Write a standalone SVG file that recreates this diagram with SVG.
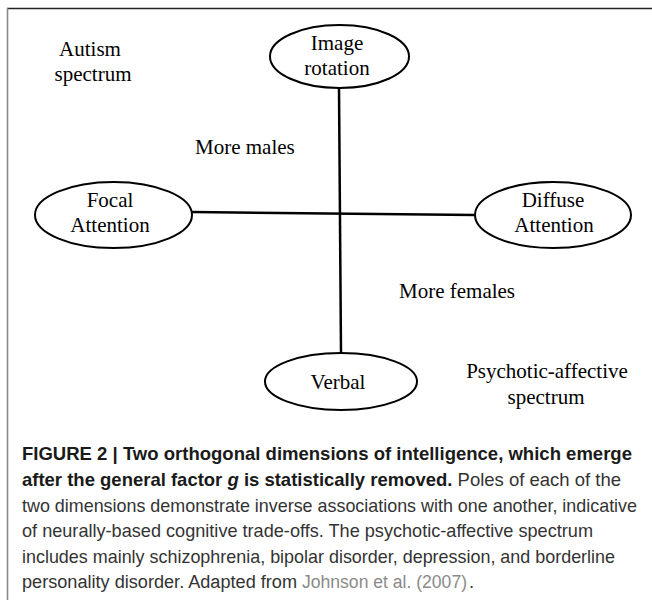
<svg xmlns="http://www.w3.org/2000/svg" width="652" height="600" viewBox="0 0 652 600">
<style>
.node ellipse{fill:#fff;stroke:#000;stroke-width:2}
.lbl{font-family:"Liberation Serif","Times New Roman",serif;font-size:21px;fill:#000}
.mid{text-anchor:middle}
.conn line{stroke:#000;stroke-width:2.5}
.cap{font-family:"Liberation Sans",Arial,sans-serif;font-size:18.5px;fill:#333}
.b{font-weight:bold;fill:#1a1a1a}
.ref{fill:#8a8a8a}
</style>
<rect width="652" height="600" fill="#fff"/>
<line x1="7" y1="8.5" x2="652" y2="8.5" stroke="#222" stroke-width="1.6"/>
<line x1="7.5" y1="8" x2="7.5" y2="600" stroke="#888" stroke-width="1.6"/>
<g id="connectors" class="conn">
<line x1="339" y1="88" x2="341" y2="353"/>
<line x1="192" y1="212" x2="475" y2="215"/>
</g>
<g id="node-image-rotation" class="node">
<ellipse cx="339.5" cy="56.5" rx="69.5" ry="31.5"/>
<text class="lbl mid" x="337" y="50">Image</text>
<text class="lbl mid" x="337" y="75">rotation</text>
</g>
<g id="node-focal" class="node">
<ellipse cx="113.5" cy="215" rx="78.5" ry="33"/>
<text class="lbl mid" x="110" y="207">Focal</text>
<text class="lbl mid" x="110" y="232">Attention</text>
</g>
<g id="node-diffuse" class="node">
<ellipse cx="553" cy="215" rx="78" ry="33"/>
<text class="lbl mid" x="553" y="207">Diffuse</text>
<text class="lbl mid" x="554" y="232">Attention</text>
</g>
<g id="node-verbal" class="node">
<ellipse cx="341" cy="381.5" rx="76" ry="28.5"/>
<text class="lbl mid" x="338" y="389">Verbal</text>
</g>
<g id="labels">
<text class="lbl mid" x="90" y="56">Autism</text>
<text class="lbl mid" x="93" y="81">spectrum</text>
<text class="lbl" x="195" y="154">More males</text>
<text class="lbl" x="399" y="298">More females</text>
<text class="lbl mid" x="547" y="378">Psychotic-affective</text>
<text class="lbl mid" x="546" y="404">spectrum</text>
</g>
<g id="caption" class="cap">
<text x="22" y="460" class="b" textLength="610" lengthAdjust="spacingAndGlyphs">FIGURE 2 | Two orthogonal dimensions of intelligence, which emerge</text>
<text x="22" y="486" textLength="599" lengthAdjust="spacingAndGlyphs"><tspan class="b">after the general factor <tspan font-style="italic">g</tspan> is statistically removed.</tspan> Poles of each of the</text>
<text x="22" y="512" font-size="17.9" textLength="615" lengthAdjust="spacingAndGlyphs">two dimensions demonstrate inverse associations with one another, indicative</text>
<text x="22" y="537" textLength="571" lengthAdjust="spacingAndGlyphs">of neurally-based cognitive trade-offs. The psychotic-affective spectrum</text>
<text x="22" y="563" textLength="593" lengthAdjust="spacingAndGlyphs">includes mainly schizophrenia, bipolar disorder, depression, and borderline</text>
<text x="22" y="588" font-size="18" textLength="275" lengthAdjust="spacingAndGlyphs">personality disorder. Adapted from</text>
<text x="302" y="588" font-size="17.6" class="ref" textLength="165" lengthAdjust="spacingAndGlyphs">Johnson et al. (2007)</text>
<text x="469" y="588">.</text>
</g>
</svg>
